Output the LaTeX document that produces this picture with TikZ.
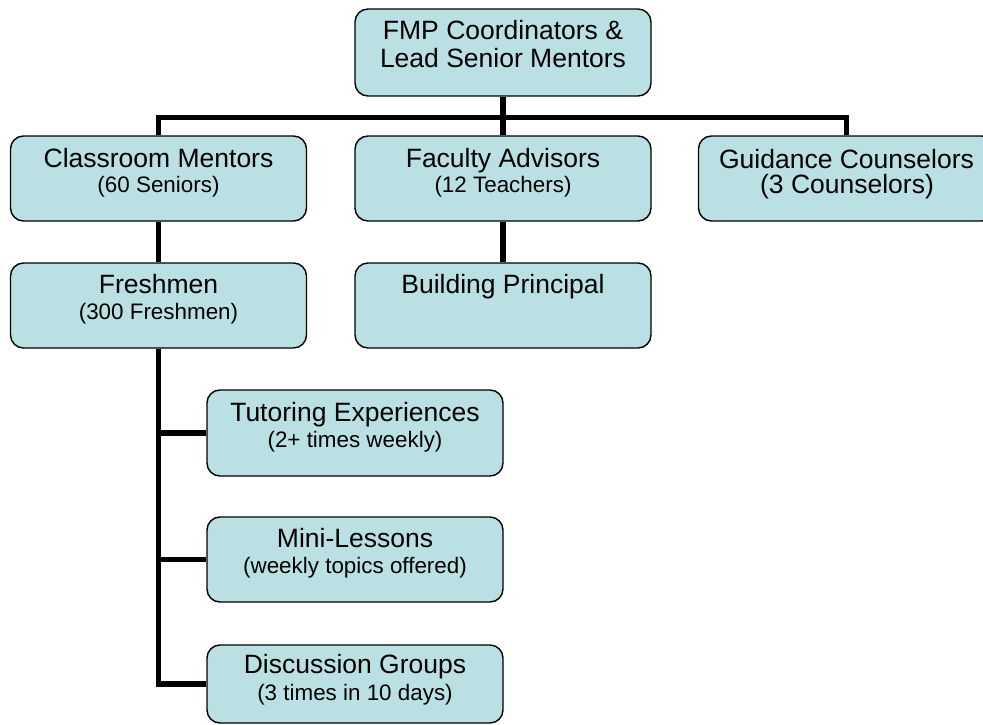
\documentclass[tikz,border=0pt]{standalone}
\usepackage{fontspec}
\setmainfont{Liberation Sans}
\definecolor{boxfill}{RGB}{187,224,227}
\begin{document}
\begin{tikzpicture}[x=1pt,y=-1pt,
  box/.style={draw=black, line width=1.4pt, fill=boxfill, rounded corners=13pt, minimum width=296pt, inner sep=0pt},
  main/.style={font=\fontsize{26.5}{28}\selectfont, inner sep=0pt, anchor=base},
  subt/.style={font=\fontsize{22.4}{24}\selectfont, inner sep=0pt, anchor=base},
  conn/.style={line width=5.5pt, draw=black}]
\useasboundingbox (0,0) rectangle (983,725);
\clip (0,0) rectangle (983,725);
% boxes
\node[box, minimum height=87pt] (top) at (503,52.5) {};
\node[box, minimum height=85pt] (cm) at (158.5,178.5) {};
\node[box, minimum height=85pt] (fa) at (503,178.5) {};
\node[box, minimum height=85pt] (gc) at (846.5,178.5) {};
\node[box, minimum height=85pt] (fr) at (158.5,305.5) {};
\node[box, minimum height=85pt] (bp) at (503,305.5) {};
\node[box, minimum height=86pt] (tu) at (355,433) {};
\node[box, minimum height=85pt] (ml) at (355,559.5) {};
\node[box, minimum height=78pt] (dg) at (355,684) {};
% connectors
\draw[conn] (top.south) -- (fa.north);
\draw[conn] (cm.north) -- ++(0,-18) -| (gc.north);
\draw[conn] (cm.south) -- (fr.north);
\draw[conn] (fa.south) -- (bp.north);
\draw[conn] (fr.south) |- (dg.west);
\draw[conn] (fr.south |- tu.west) -- (tu.west);
\draw[conn] (fr.south |- ml.west) -- (ml.west);
% texts
\node[main] (top-1) at (503,40) {FMP Coordinators \&};
\node[main] (top-2) at (503,67) {Lead Senior Mentors};
\node[main] (cm-1) at (158.5,167) {Classroom Mentors};
\node[subt] (cm-2) at (158.5,192) {(60 Seniors)};
\node[main] (fa-1) at (503,167) {Faculty Advisors};
\node[subt] (fa-2) at (503,192) {(12 Teachers)};
\node[main] (gc-1) at (846.5,168) {Guidance Counselors};
\node[main] (gc-2) at (847,193) {(3 Counselors)};
\node[main] (fr-1) at (158.5,293) {Freshmen};
\node[subt] (fr-2) at (158.5,319) {(300 Freshmen)};
\node[main] (bp-1) at (503,293) {Building Principal};
\node[main] (tu-1) at (355,421) {Tutoring Experiences};
\node[subt] (tu-2) at (355,447) {(2+ times weekly)};
\node[main] (ml-1) at (355,547) {Mini-Lessons};
\node[subt] (ml-2) at (355,573) {(weekly topics offered)};
\node[main] (dg-1) at (355,673) {Discussion Groups};
\node[subt] (dg-2) at (355,700) {(3 times in 10 days)};
\end{tikzpicture}
\end{document}
